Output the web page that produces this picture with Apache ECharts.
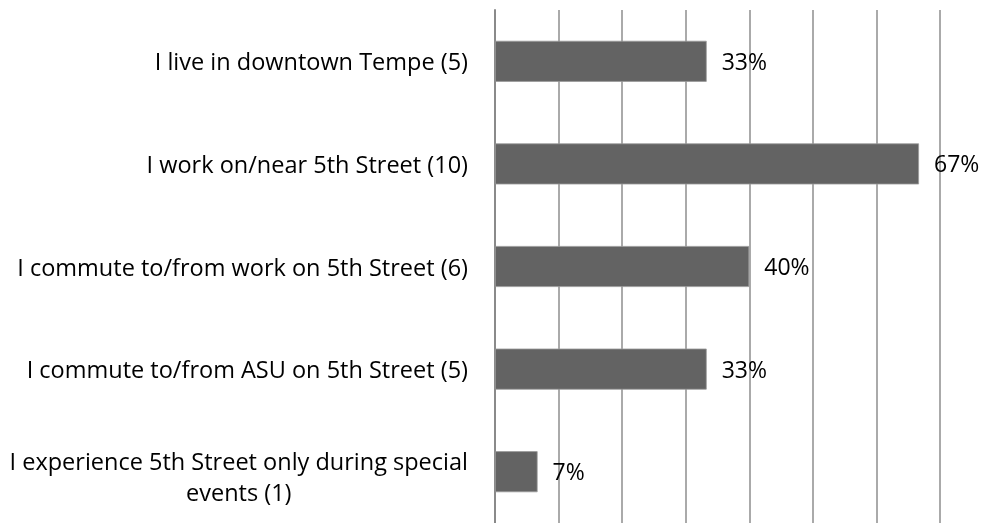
<!DOCTYPE html>
<html>
<head>
<meta charset="utf-8">
<script src="https://cdn.jsdelivr.net/npm/echarts@6/dist/echarts.min.js"></script>
<style>
  html, body { margin: 0; padding: 0; background: #fff; }
  #chart { width: 992px; height: 523px; }
</style>
</head>
<body>
<div id="chart"></div>
<script>
// categories top to bottom
const categories = [
  'I live in downtown Tempe (5)',
  'I work on/near 5th Street (10)',
  'I commute to/from work on 5th Street (6)',
  'I commute to/from ASU on 5th Street (5)',
  'I experience 5th Street only during special events (1)'
];
// percent of respondents
const percents = [33.3, 66.7, 40, 33.3, 6.7];

const chart = echarts.init(document.getElementById('chart'));

// long label wraps onto two centred lines
const wrapLabel = (name) => {
  if (name.length < 45) return '{t|' + name + '}';
  const cut = name.lastIndexOf(' ', 44);
  return '{c|' + name.slice(0, cut) + '}\n{c|' + name.slice(cut + 1) + '}';
};

const labelFont = { fontSize: 23.5, color: '#000', fontFamily: 'Open Sans' };

chart.setOption({
  animation: false,
  textStyle: { fontFamily: 'Open Sans' },
  grid: { left: 495, right: 52, top: 10, bottom: -4 },
  xAxis: {
    type: 'value',
    min: 0,
    max: 70,
    interval: 10,
    axisLine: { show: false },
    axisTick: { show: false },
    axisLabel: { show: false },
    splitLine: { lineStyle: { color: '#8e8e8e', width: 1.5 } }
  },
  yAxis: {
    type: 'category',
    inverse: true,
    data: categories,
    axisLine: { lineStyle: { color: '#8a8a8a', width: 2 } },
    axisTick: { length: 8, lineStyle: { color: '#8a8a8a', width: 1.5 } },
    axisLabel: {
      margin: 27,
      formatter: wrapLabel,
      rich: {
        t: { ...labelFont, padding: [5, 0, 0, 0] },
        c: { ...labelFont, align: 'center', lineHeight: 31, padding: [14, 0, 0, 0] }
      }
    }
  },
  series: [{
    type: 'bar',
    data: percents,
    barWidth: '40%',
    itemStyle: { color: '#636363', borderColor: '#9a9a9a', borderWidth: 0.8 },
    label: {
      show: true,
      position: 'right',
      distance: 15,
      offset: [0, 2],
      color: '#000',
      fontSize: 23,
      fontFamily: 'Open Sans',
      formatter: p => Math.round(p.value) + '%'
    }
  }]
});
</script>
</body>
</html>
